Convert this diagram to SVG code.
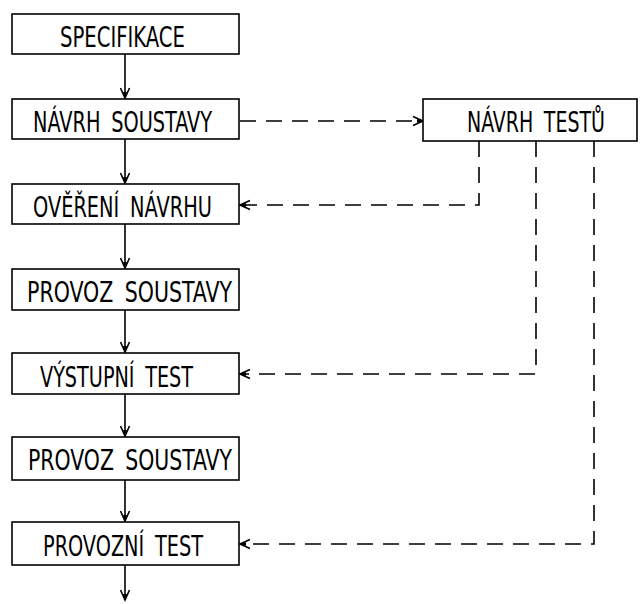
<svg xmlns="http://www.w3.org/2000/svg" width="643" height="604" viewBox="0 0 643 604">
<style>
.box{fill:#fff;stroke:#000;stroke-width:1.6}
.lbl{font-family:"DejaVu Sans Condensed","DejaVu Sans","Liberation Sans",sans-serif;font-size:28px;word-spacing:6px;fill:#000}
.solid{fill:none;stroke:#000;stroke-width:1.6}
.dash{fill:none;stroke:#000;stroke-width:1.6;stroke-dasharray:16 10}
</style>
<defs>
<marker id="ah" markerUnits="userSpaceOnUse" markerWidth="14" markerHeight="12" viewBox="-12 -6 14 12" refX="0" refY="0" orient="auto">
<path d="M-10,-4.5 L0,0 L-10,4.5" fill="none" stroke="#000" stroke-width="1.6" stroke-dasharray="none"/>
<path d="M0,0 L-6,-2 L-6,2 Z" fill="#000" stroke="none"/>
</marker>
</defs>
<g id="connectors">
<path class="solid" d="M125,54 V98" marker-end="url(#ah)"/>
<path class="solid" d="M125,139 V183" marker-end="url(#ah)"/>
<path class="solid" d="M125,224 V268" marker-end="url(#ah)"/>
<path class="solid" d="M125,310 V352" marker-end="url(#ah)"/>
<path class="solid" d="M125,394 V436" marker-end="url(#ah)"/>
<path class="solid" d="M125,480 V521" marker-end="url(#ah)"/>
<path class="solid" d="M125,565 V600" marker-end="url(#ah)"/>
<path class="dash" d="M240,121 H423" marker-end="url(#ah)"/>
<path class="dash" d="M479,141 V205 H240" marker-end="url(#ah)"/>
<path class="dash" d="M536,141 V374 H240" marker-end="url(#ah)"/>
<path class="dash" d="M594,141 V544 H240" marker-end="url(#ah)"/>
</g>
<g id="specifikace"><rect class="box" x="12" y="14" width="227" height="40"/><text class="lbl" x="60" y="47" textLength="125" lengthAdjust="spacingAndGlyphs">SPECIFIKACE</text></g>
<g id="navrh-soustavy"><rect class="box" x="12" y="99" width="227" height="40"/><text class="lbl" x="33" y="132" textLength="179" lengthAdjust="spacingAndGlyphs">NÁVRH SOUSTAVY</text></g>
<g id="overeni-navrhu"><rect class="box" x="12" y="184" width="227" height="40"/><text class="lbl" x="33" y="217" textLength="179" lengthAdjust="spacingAndGlyphs">OVĚŘENÍ NÁVRHU</text></g>
<g id="provoz-soustavy-1"><rect class="box" x="12" y="269" width="227" height="41"/><text class="lbl" x="27" y="302" textLength="205" lengthAdjust="spacingAndGlyphs">PROVOZ SOUSTAVY</text></g>
<g id="vystupni-test"><rect class="box" x="12" y="353" width="227" height="41"/><text class="lbl" x="40" y="387" textLength="153" lengthAdjust="spacingAndGlyphs">VÝSTUPNÍ TEST</text></g>
<g id="provoz-soustavy-2"><rect class="box" x="12" y="437" width="227" height="43"/><text class="lbl" x="28" y="470" textLength="204" lengthAdjust="spacingAndGlyphs">PROVOZ SOUSTAVY</text></g>
<g id="provozni-test"><rect class="box" x="12" y="522" width="227" height="43"/><text class="lbl" x="43" y="556" textLength="160" lengthAdjust="spacingAndGlyphs">PROVOZNÍ TEST</text></g>
<g id="navrh-testu"><rect class="box" x="423" y="99" width="214" height="42"/><text class="lbl" x="467" y="132" textLength="138" lengthAdjust="spacingAndGlyphs">NÁVRH TESTŮ</text></g>
</svg>
